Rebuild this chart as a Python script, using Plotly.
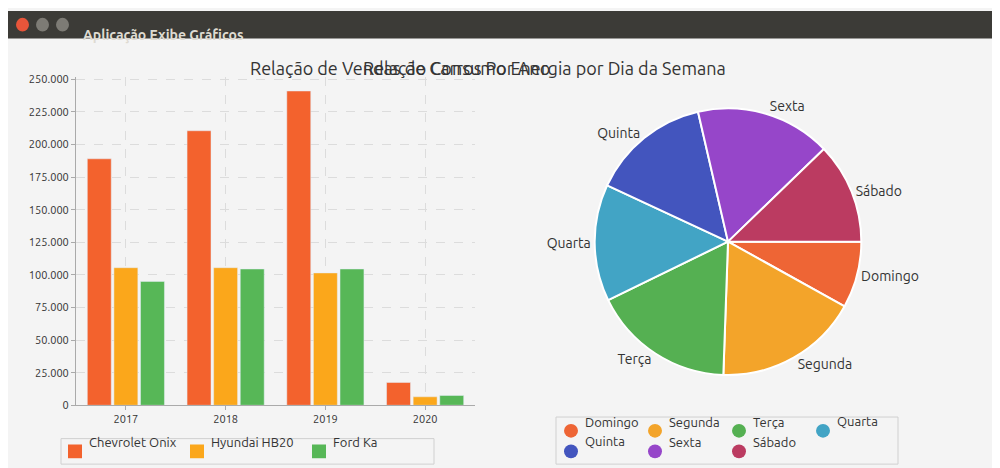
import plotly.graph_objects as go

years = ["2017", "2018", "2019", "2020"]
series = ["Chevrolet Onix", "Hyundai HB20", "Ford Ka"]
onix = [189000, 210500, 241000, 17500]
hb20 = [105500, 105500, 101500, 6500]
ka = [95000, 104500, 104500, 7500]
bar_colors = ["#f3622d", "#fba71b", "#57b757"]
ytick_vals = list(range(0, 250001, 25000))
ytick_text = ["0"] + [f"{v:,}".replace(",", ".") for v in ytick_vals[1:]]

days = ["Domingo", "Segunda", "Terça", "Quarta", "Quinta", "Sexta", "Sábado"]
energy = [29, 63, 62, 51, 52, 59, 44]
pie_colors = ["#ee6535", "#f3a42a", "#55b052", "#42a4c5", "#4355be", "#9646c9", "#bb3b61"]

W, H = 1000, 468
def px(x): return x / W
def py(y): return 1 - y / H

fig = go.Figure()
for name, vals, c in zip(series, [onix, hb20, ka], bar_colors):
    fig.add_bar(x=years, y=vals, name=name, marker_color=c, showlegend=False)

fig.add_pie(labels=days, values=energy, marker=dict(colors=pie_colors, line=dict(color="white", width=2)),
            sort=False, direction="clockwise", rotation=90, textinfo="label",
            textposition="outside", textfont=dict(size=14, color="#333"),
            domain=dict(x=[0.584, 0.856], y=[0.207, 0.788]), showlegend=False)

annotations = [
    dict(text="Relação de Vendas de Carros Por Ano", x=px(240), y=py(46), font=dict(size=18, color="#333")),
    dict(text="Relação Consumo Energia por Dia da Semana", x=px(720), y=py(46), font=dict(size=18, color="#333")),
    dict(text="<b>Aplicação Exibe Gráficos</b>", x=px(73), y=py(14), xanchor="left", font=dict(size=14, color="#dfdbd2")),
]
shapes = [
    dict(type="rect", x0=0, x1=1, y0=py(28), y1=1, fillcolor="#3c3b37", line_width=0),
    dict(type="circle", x0=px(8), x1=px(21), y0=py(21), y1=py(7), fillcolor="#e8553a", line_width=0),
    dict(type="circle", x0=px(28), x1=px(41), y0=py(21), y1=py(7), fillcolor="#7d7b75", line_width=0),
    dict(type="circle", x0=px(48), x1=px(61), y0=py(21), y1=py(7), fillcolor="#7d7b75", line_width=0),
    dict(type="rect", x0=px(53), x1=px(426), y0=py(462), y1=py(436), fillcolor="rgba(0,0,0,0)", line=dict(color="#d0d0d0", width=1)),
    dict(type="rect", x0=px(548), x1=px(890), y0=py(462), y1=py(414), fillcolor="rgba(0,0,0,0)", line=dict(color="#d0d0d0", width=1)),
]
# bar legend
bx = [60, 182, 304]
for x, name, c in zip(bx, series, bar_colors):
    shapes.append(dict(type="rect", x0=px(x), x1=px(x + 14), y0=py(456), y1=py(442), fillcolor=c, line_width=0))
    annotations.append(dict(text=name, x=px(x + 19), y=py(449), xanchor="left", font=dict(size=13, color="#333")))
# pie legend
px_pos = [556, 640, 724, 808]
for i, (name, c) in enumerate(zip(days, pie_colors)):
    x = px_pos[i % 4]; yc = 428 if i < 4 else 449
    shapes.append(dict(type="circle", x0=px(x), x1=px(x + 14), y0=py(yc + 7), y1=py(yc - 7), fillcolor=c, line_width=0))
    annotations.append(dict(text=name, x=px(x + 19), y=py(yc), xanchor="left", font=dict(size=13, color="#333")))

for a in annotations:
    a.update(xref="paper", yref="paper", showarrow=False)
for s in shapes:
    s.update(xref="paper", yref="paper")

fig.update_layout(
    width=W, height=H, margin=dict(l=0, r=0, t=0, b=0), showlegend=False,
    paper_bgcolor="#f4f4f4", plot_bgcolor="#f4f4f4",
    font=dict(family="Ubuntu, DejaVu Sans", color="#333"),
    bargap=0.2, bargroupgap=0.1,
    xaxis=dict(domain=[0.068, 0.467], showgrid=True, gridcolor="#dcdcdc", griddash="dash",
               showline=True, linecolor="#aaa", tickfont=dict(size=11), ticks="outside", ticklen=4, tickcolor="#aaa"),
    yaxis=dict(domain=[0.141, 0.857], range=[0, 252000], tickvals=ytick_vals, ticktext=ytick_text,
               showgrid=True, gridcolor="#dcdcdc", griddash="dash", zeroline=False,
               showline=True, linecolor="#aaa", tickfont=dict(size=11), ticks="outside", ticklen=4, tickcolor="#aaa"),
    annotations=annotations, shapes=shapes,
)
fig.write_html("out.html")
